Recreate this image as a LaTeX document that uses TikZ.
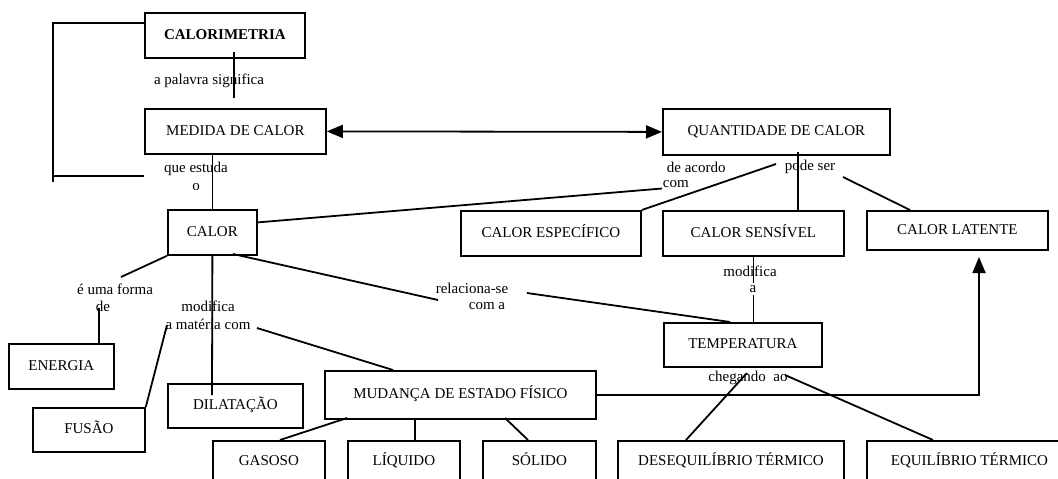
\documentclass[tikz,border=0pt]{standalone}
\usepackage{fontspec}
\setmainfont{Liberation Serif}
\usetikzlibrary{arrows.meta}
\newcommand\myfs{\fontsize{15}{18}\selectfont}
\begin{document}
\begin{tikzpicture}[x=1pt,y=-1pt, line width=1.8pt,
  box/.style={draw, line width=1.8pt, inner sep=0pt, anchor=north west, align=center, font=\myfs, text height=11pt, text depth=3pt},
  lbl/.style={inner sep=0pt, font=\myfs, align=center},
  tri/.style={-{Triangle[length=16pt,width=13pt]}},
  dtri/.style={{Triangle[length=16pt,width=13pt]}-{Triangle[length=16pt,width=13pt]}}]
\useasboundingbox (0,0) rectangle (1058,479);
\clip (0,0) rectangle (1058,479);
% boxes
\node[box, minimum width=160pt, minimum height=45pt] (calm) at (144,12) {\bfseries CALORIMETRIA};
\node[box, minimum width=181pt, minimum height=45pt] (med) at (144,108) {MEDIDA DE CALOR};
\node[box, minimum width=227pt, minimum height=46pt] (quant) at (662,108) {QUANTIDADE DE CALOR};
\node[box, minimum width=89pt, minimum height=45pt] (calor) at (167,209) {CALOR};
\node[box, minimum width=180pt, minimum height=45pt] (esp) at (460,210) {CALOR ESPECÍFICO};
\node[box, minimum width=181pt, minimum height=45pt] (sens) at (662,210) {CALOR SENSÍVEL};
\node[box, minimum width=181pt, minimum height=39pt] (lat) at (866,210) {CALOR LATENTE};
\node[box, minimum width=105pt, minimum height=45pt] (energia) at (8,343) {ENERGIA};
\node[box, minimum width=112pt, minimum height=44pt] (fusao) at (32,407) {FUSÃO};
\node[box, minimum width=135pt, minimum height=44pt] (dil) at (167,383) {DILATAÇÃO};
\node[box, minimum width=271pt, minimum height=48pt] (mud) at (324,370) {MUDANÇA DE ESTADO FÍSICO};
\node[box, minimum width=158pt, minimum height=44pt] (temp) at (663,322) {TEMPERATURA};
\node[box, minimum width=112pt, minimum height=42pt] (gas) at (212,440) {GASOSO};
\node[box, minimum width=112pt, minimum height=42pt] (liq) at (347,440) {LÍQUIDO};
\node[box, minimum width=113pt, minimum height=42pt] (sol) at (482,440) {SÓLIDO};
\node[box, minimum width=226pt, minimum height=42pt] (deseq) at (617,440) {DESEQUILÍBRIO TÉRMICO};
\node[box, minimum width=205pt, minimum height=42pt] (equi) at (866,440) {EQUILÍBRIO TÉRMICO};
% labels
\node[lbl] (l1) at (209,81) {a palavra significa};
\node[lbl] (l2) at (196,176) {que estuda\\o};
\node[lbl, anchor=west] (l3a) at (666,167) {de acordo};
\node[lbl, anchor=west] (l3b) at (662,184) {com};
\node[lbl] (l4) at (810,167) {pode ser};
\node[lbl] (l5a) at (115,289) {é uma forma};
\node[lbl] (l5b) at (103,306) {de};
\node[lbl] (l6) at (208,315) {modifica\\a matéria com};
\node[lbl] (l7a) at (472,288) {relaciona-se};
\node[lbl] (l7b) at (487,306) {com a};
\node[lbl] (l8a) at (750,271) {modifica};
\node[lbl] (l9) at (748,378) {chegando~ ao};
% connectors
\coordinate (pA) at (234,52); \coordinate (pB) at (234,98);
\draw (pA) -- (pB);
\coordinate (br1) at (144,23); \coordinate (br2) at (53,182);
\coordinate (br3) at (53,176); \coordinate (br4) at (144,176);
\draw (br1) -| (br2);
\draw (br3) -- (br4);
\draw (med.south -| calor.north) -- (calor.north);
\coordinate (dl) at (212,395);
\draw (calor.south) -- (dl);
\draw[dtri] (med.east) -- (quant.west);
\draw ([yshift=10pt]calor.east) -- (l3b.south west);
\coordinate (q1) at (798,152);
\draw (q1) -- (q1 |- sens.north);
\coordinate (ps1) at (776,164);
\draw (ps1) -- (esp.north east);
\coordinate (ps2) at (843,177); \coordinate (lt) at (910,210);
\draw (ps2) -- (lt);
\draw (sens.south) -- (sens.south |- temp.north);
\node[lbl, fill=white, inner ysep=2pt] (l8b) at (753,289) {a};
\coordinate (f1) at (121,277);
\draw (calor.south west) -- (f1);
\coordinate (e1) at (99,308);
\draw (e1) -- (e1 |- energia.north);
\coordinate (r0) at (233,254); \coordinate (r1) at (438,300);
\draw (r0) -- (r1);
\coordinate (r2) at (527,293); \coordinate (r3) at (730,322);
\draw (r2) -- (r3);
\coordinate (m1) at (167,325);
\draw (fusao.north east) -- (m1);
\coordinate (m2) at (257,328); \coordinate (m3) at (393,370);
\draw (m2) -- (m3);
\coordinate (g1) at (347,418); \coordinate (g2) at (280,440);
\draw (g1) -- (g2);
\coordinate (lq) at (415,418);
\draw (lq) -- (lq |- liq.north);
\coordinate (s1) at (505,418); \coordinate (s2) at (528,440);
\draw (s1) -- (s2);
\coordinate (lat1) at (979,257);
\draw[tri] (mud.east) -| (lat1);
\coordinate (ch1) at (747,373); \coordinate (ch2) at (686,440);
\draw (ch1) -- (ch2);
\coordinate (ch3) at (785,375); \coordinate (ch4) at (933,440);
\draw (ch3) -- (ch4);
\end{tikzpicture}
\end{document}
